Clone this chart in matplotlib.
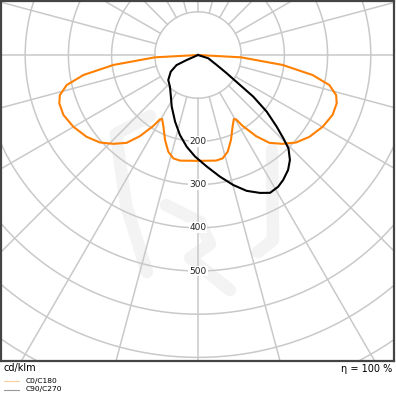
import numpy as np
import matplotlib
matplotlib.use("Agg")
import matplotlib.pyplot as plt

# --- data (cd/klm), gamma in degrees, 0 = straight down ---
# C0/C180 plane, symmetric: one half, mirrored
c0_gamma = [0, 9.7, 13.4, 17.1, 21.2, 25.8, 29.2, 30.6, 32.2, 35.6, 39.1, 43.6,
            48.2, 53.7, 60.1, 66.0, 70.8, 73.8, 77.1, 80.1, 83.3, 86.9, 90]
c0_value = [245, 248, 246, 234, 211, 184, 170, 173, 194, 231, 262, 284,
            304, 320, 333, 341, 340, 333, 312, 269, 197, 100, 0]

# C90/C270 plane (negative = left side)
c90_gamma = [-90, -66.1, -64.8, -58.5, -49.9, -41.5, -34.3, -27.0, -19.0, -12.7,
             -7.0, -1.7, 4.5, 10.2, 15.2, 19.7, 24.2, 27.6, 31.3, 34.3, 38.1,
             41.2, 44.1, 45.7, 47.7, 50.5, 53.0, 54.5, 57.5, 61.9, 72.2, 90]
c90_value = [0, 29, 55, 74, 90, 98, 112, 134, 163, 190,
             214, 235, 259, 286, 312, 334, 350, 360, 357, 350, 338,
             323, 301, 276, 246, 206, 160, 119, 79, 49, 25, 0]

ring_values = [100, 200, 300, 400, 500, 600, 700, 800, 900]
ring_labels = [200, 300, 400, 500]
spoke_step = 15

unit_label = "cd/klm"
eta_label = "η = 100 %"
legend_names = ["C0/C180", "C90/C270"]

orange = "#ff8000"
grid_col = "#c9c9c9"


def to_xy(gamma, value):
    g = np.radians(np.asarray(gamma, dtype=float))
    v = np.asarray(value, dtype=float)
    return v * np.sin(g), -v * np.cos(g)


W = H = 396
fig = plt.figure(figsize=(W / 100, H / 100), dpi=100)
# plot box in pixels: x 1..394, y 1..361, centre (198, 55), 0.432 px per cd/klm
scale = 0.432
cx, cy = 198, 55
ax = fig.add_axes([1 / W, (H - 361) / H, 393 / W, 360 / H])
ax.set_xlim((1 - cx) / scale, (394 - cx) / scale)
ax.set_ylim(-(361 - cy) / scale, (cy - 1) / scale)
ax.set_xticks([])
ax.set_yticks([])
for s in ax.spines.values():
    s.set_color("#444444")
    s.set_linewidth(1.6)


def px(p):
    return [((x - cx) / scale, -(y - cy) / scale) for x, y in p]


# faint watermark logo
logo = [
    [(150, 116), (116, 134), (126, 205), (147, 272)],
    [(166, 205), (200, 222), (210, 244), (190, 258), (230, 290)],
    [(272, 150), (273, 240), (258, 252)],
]
for stroke in logo:
    xs, ys = zip(*px(stroke))
    ax.plot(xs, ys, color="#f3f3f3", lw=9, solid_capstyle="round",
            solid_joinstyle="round", zorder=0)

# grid rings and spokes
t = np.linspace(0, 2 * np.pi, 400)
for r in ring_values:
    ax.plot(r * np.cos(t), r * np.sin(t), color=grid_col, lw=1.1, zorder=1)
for a in range(0, 360, spoke_step):
    ax.plot(*to_xy([a, a], [ring_values[0], 1200]), color=grid_col, lw=1.1, zorder=1)

for r in ring_labels:
    ax.text(0, -r, str(r), ha="center", va="center", fontsize=6.5, color="#222222",
            zorder=2, bbox=dict(boxstyle="square,pad=0.1", fc="white", ec="none"))

# curves
g0 = np.concatenate([-np.array(c0_gamma[::-1]), np.array(c0_gamma[1:])])
v0 = np.concatenate([np.array(c0_value[::-1]), np.array(c0_value[1:])])
ax.plot(*to_xy(g0, v0), color=orange, lw=1.5, zorder=3, solid_joinstyle="round")
ax.plot(*to_xy(c90_gamma, c90_value), color="black", lw=1.5, zorder=4,
        solid_joinstyle="round")

# texts below the box
fig.text(4 / W, 1 - 371.5 / H, unit_label, fontsize=7, ha="left", va="baseline")
fig.text(392 / W, 1 - 371.5 / H, eta_label, fontsize=7, ha="right", va="baseline")

leg_colors = ["#ffcf9e", "#999999"]
leg_y = [380.5, 389.5]
for name, col, y in zip(legend_names, leg_colors, leg_y):
    fig.add_artist(plt.Line2D([4 / W, 19 / W], [1 - y / H, 1 - y / H],
                              color=col, lw=0.8, transform=fig.transFigure))
    fig.text(26 / W, 1 - y / H, name, fontsize=5.4, ha="left", va="center")

fig.savefig("out.png", dpi=100)
